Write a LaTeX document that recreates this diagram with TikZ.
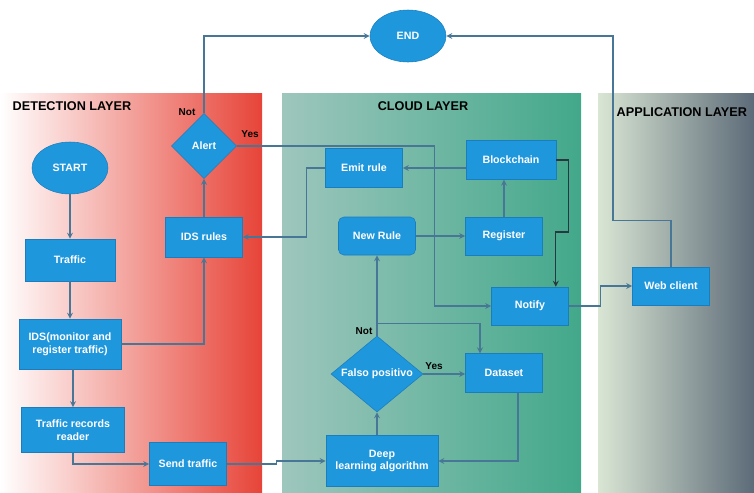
\documentclass[tikz,border=0pt]{standalone}
\usepackage{fontspec}
\setmainfont{Liberation Sans}
\usetikzlibrary{shapes.geometric,calc}
\definecolor{nodeblue}{RGB}{31,151,221}
\definecolor{nodeedge}{RGB}{26,125,190}
\definecolor{linkblue}{RGB}{72,118,150}
\definecolor{linkdark}{RGB}{40,55,65}
\definecolor{detred}{RGB}{231,68,56}
\definecolor{detpink}{RGB}{244,185,177}
\definecolor{cloudleft}{RGB}{158,198,189}
\definecolor{cloudright}{RGB}{66,168,138}
\definecolor{appleft}{RGB}{218,230,212}
\definecolor{appright}{RGB}{92,107,120}

\begin{document}
\begin{tikzpicture}[x=0.75pt, y=-0.75pt,
  box/.style={draw=nodeedge, fill=nodeblue, text=white, font=\bfseries\fontsize{8}{9.5}\selectfont,
    align=center, minimum width=57.75pt, minimum height=28.5pt, inner sep=1pt},
  oval/.style={box, ellipse, minimum width=57pt, minimum height=39pt},
  decision/.style={box, diamond, inner sep=0pt},
  layertitle/.style={font=\bfseries\fontsize{9.5}{11}\selectfont},
  answer/.style={font=\bfseries\fontsize{7.5}{9}\selectfont},
  link/.style={->, >=stealth, draw=linkblue, line width=1pt}]
  \useasboundingbox (0,0) rectangle (754,493);
  \shade[left color=white, middle color=detpink, right color=detred] (0,93) rectangle (262,493);
  \shade[left color=cloudleft, right color=cloudright] (282,93) rectangle (581,493);
  \shade[left color=appleft, right color=appright] (598,93) rectangle (754,493);
  \node[layertitle, anchor=west] (detlabel) at (8,106) {DETECTION LAYER};
  \node[layertitle] (cloudlabel) at (423,106) {CLOUD LAYER};
  \node[layertitle, anchor=west] (applabel) at (612,112) {APPLICATION LAYER};

  \node[oval] (finish) at (408,36) {END};
  \node[oval] (start) at (70,168) {START};
  \node[box, minimum width=67.5pt, minimum height=31.5pt] (traffic) at (70,260) {Traffic};
  \node[box, minimum width=76.5pt, minimum height=37.5pt] (ids) at (70,344) {IDS(monitor and\\register traffic)};
  \node[box, minimum width=77.25pt, minimum height=33.75pt] (reader) at (73,430) {Traffic records\\reader};
  \node[box, minimum height=32pt] (send) at (188,464) {Send traffic};
  \node[box, minimum height=30pt] (idsrules) at (204,237) {IDS rules};
  \node[decision, minimum width=48.75pt, minimum height=48.75pt] (alert) at (204,146) {Alert};
  \node[box, minimum height=29pt] (emit) at (364,168) {Emit rule};
  \node[box, minimum width=67.5pt, minimum height=29pt] (chain) at (511,160) {Blockchain};
  \node[box, rounded corners=4pt] (newrule) at (377,236) {New Rule};
  \node[box] (register) at (504,236) {Register};
  \node[box] (notify) at (530,306) {Notify};
  \node[box, minimum height=29pt] (dataset) at (504,373) {Dataset};
  \node[decision, aspect=1.2, minimum width=69pt, minimum height=57pt] (falso) at (377,374) {Falso positivo};
  \node[box, minimum width=84pt, minimum height=38.25pt] (deep) at (382,461) {Deep\\learning algorithm};
  \node[box] (web) at (671,286) {Web client};

  \node[answer] (alertno) at (187,112) {Not};
  \node[answer] (alertyes) at (250,134) {Yes};
  \node[answer] (falsono) at (364,331) {Not};
  \node[answer] (falsoyes) at (434,366) {Yes};

  \draw[link] (start) -- (traffic);
  \draw[link] (traffic) -- (ids);
  \draw[link] (reader.north |- ids.south) -- (reader.north);
  \draw[link] (reader.south) |- (send.west);
  \draw[link] (ids.east) -| (idsrules.south);
  \draw[link] (idsrules) -- (alert);
  \draw[link] (alert.north) |- (finish.west);
  \draw[link] (alert.east) -- ++(198,0) |- (notify.west);
  \draw[link] (emit.west) -- ++(-19,0) |- (idsrules.east);
  \draw[link] (chain.west |- emit) -- (emit.east);
  \draw[link] (register.north) -- (register.north |- chain.south);
  \draw[link] (newrule) -- (register);
  \draw[link, draw=linkdark] (chain.east) -- ++(12,0) -- ++(0,72) -| ($(notify.north east)+(-13,0)$);
  \draw[link] (notify.east) -- ++(32,0) |- (web.west);
  \draw[link] (web.north) -- ++(0,-46) -- ++(-58,0) |- (finish.east);
  \draw[link] (falso.north) -- (newrule.south);
  \draw[link] ($(falso.north)+(0,-12)$) -| ($(dataset.north)+(-24,0)$);
  \draw[link] (falso.east) -- (falso.east -| dataset.west);
  \draw[link] ($(dataset.south)+(14,0)$) |- (deep.east);
  \draw[link] (deep.north -| falso) -- (falso.south);
  \draw[link] (send.east) -- ++(50,0) |- (deep.west);
\end{tikzpicture}
\end{document}
